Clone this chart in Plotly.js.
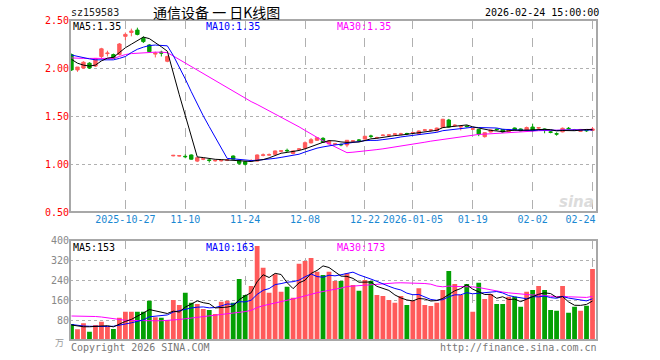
<!DOCTYPE html>
<html><head><meta charset="utf-8">
<script src="https://cdn.plot.ly/plotly-3.0.1.min.js"></script>
<style>html,body{margin:0;padding:0;background:#fff}#chart{width:660px;height:360px}</style>
</head><body><div id="chart"></div>
<script>
const dates = ['2025-10-14','2025-10-15','2025-10-16','2025-10-17','2025-10-20','2025-10-21','2025-10-22','2025-10-23','2025-10-24','2025-10-27','2025-10-28','2025-10-29','2025-10-30','2025-10-31','2025-11-03','2025-11-04','2025-11-05','2025-11-06','2025-11-07','2025-11-10','2025-11-11','2025-11-12','2025-11-13','2025-11-14','2025-11-17','2025-11-18','2025-11-19','2025-11-20','2025-11-21','2025-11-24','2025-11-25','2025-11-26','2025-11-27','2025-11-28','2025-12-01','2025-12-02','2025-12-03','2025-12-04','2025-12-05','2025-12-08','2025-12-09','2025-12-10','2025-12-11','2025-12-12','2025-12-15','2025-12-16','2025-12-17','2025-12-18','2025-12-19','2025-12-22','2025-12-23','2025-12-24','2025-12-25','2025-12-26','2025-12-29','2025-12-30','2025-12-31','2026-01-05','2026-01-06','2026-01-07','2026-01-08','2026-01-09','2026-01-12','2026-01-13','2026-01-14','2026-01-15','2026-01-16','2026-01-19','2026-01-20','2026-01-21','2026-01-22','2026-01-23','2026-01-26','2026-01-27','2026-01-28','2026-01-29','2026-01-30','2026-02-02','2026-02-03','2026-02-04','2026-02-05','2026-02-06','2026-02-09','2026-02-10','2026-02-11','2026-02-12','2026-02-13','2026-02-24'];

const openP = [2.14,1.98,2.00,2.05,2.02,2.12,2.15,2.14,2.14,2.33,
 2.37,2.395,2.31,2.24,2.145,2.165,2.07,1.085,1.083,1.08,
 1.094,1.03,1.05,1.042,1.033,1.033,1.038,1.083,1.04,1.024,
 1.032,1.03,1.09,1.093,1.10,1.133,1.142,1.11,1.153,1.164,
 1.22,1.247,1.267,1.21,1.207,1.203,1.198,1.238,1.25,1.26,
 1.292,1.273,1.298,1.30,1.31,1.31,1.318,1.324,1.3125,1.352,
 1.352,1.345,1.38,1.458,1.40,1.386,1.395,1.363,1.36,1.285,
 1.333,1.363,1.36,1.337,1.375,1.365,1.354,1.385,1.375,1.365,
 1.335,1.315,1.335,1.372,1.356,1.34,1.35,1.35];
const highP = [2.15,2.01,2.07,2.06,2.10,2.21,2.18,2.15,2.26,2.37,
 2.41,2.42,2.33,2.25,2.17,2.18,2.13,1.095,1.093,1.10,
 1.10,1.07,1.06,1.05,1.045,1.045,1.05,1.09,1.045,1.03,
 1.05,1.10,1.11,1.11,1.14,1.145,1.16,1.14,1.165,1.235,
 1.27,1.28,1.28,1.245,1.22,1.215,1.25,1.25,1.26,1.29,
 1.305,1.285,1.31,1.31,1.32,1.325,1.325,1.335,1.35,1.365,
 1.365,1.38,1.47,1.47,1.415,1.40,1.405,1.375,1.365,1.33,
 1.36,1.37,1.365,1.365,1.38,1.37,1.39,1.42,1.385,1.37,
 1.35,1.33,1.38,1.385,1.365,1.365,1.36,1.385];
const lowP = [1.97,1.96,1.99,1.99,2.01,2.10,2.12,2.10,2.13,2.29,
 2.33,2.34,2.26,2.16,2.11,2.12,2.06,1.08,1.078,1.06,
 1.045,1.02,1.04,1.015,1.025,1.025,1.03,1.045,0.99,0.985,
 1.02,1.025,1.08,1.085,1.095,1.12,1.125,1.10,1.14,1.16,
 1.215,1.24,1.22,1.205,1.20,1.185,1.175,1.23,1.235,1.255,
 1.27,1.265,1.29,1.29,1.30,1.30,1.30,1.315,1.305,1.34,
 1.335,1.34,1.375,1.38,1.39,1.35,1.38,1.355,1.29,1.275,
 1.33,1.345,1.325,1.33,1.35,1.34,1.35,1.34,1.365,1.32,
 1.32,1.295,1.33,1.36,1.345,1.335,1.335,1.345];
const closeP = [1.98,2.01,2.06,2.00,2.10,2.20,2.155,2.10,2.25,2.35,
 2.385,2.35,2.275,2.17,2.155,2.155,2.12,1.09,1.087,1.076,
 1.05,1.066,1.054,1.038,1.036,1.037,1.042,1.05,1.007,0.997,
 1.036,1.094,1.095,1.097,1.136,1.137,1.138,1.136,1.157,1.222,
 1.253,1.274,1.226,1.24,1.21,1.20,1.247,1.241,1.247,1.289,
 1.288,1.276,1.30,1.303,1.313,1.313,1.315,1.327,1.344,1.355,
 1.355,1.374,1.466,1.385,1.404,1.39,1.39,1.366,1.3125,1.326,
 1.355,1.358,1.333,1.36,1.354,1.345,1.38,1.35,1.378,1.354,
 1.33,1.312,1.372,1.368,1.352,1.36,1.347,1.365];

const ma5P = [2.09,2.05,2.03,2.02,2.03,2.074,2.103,2.111,2.161,2.211,
 2.248,2.287,2.322,2.306,2.267,2.221,2.175,1.938,1.721,1.506,
 1.285,1.074,1.067,1.057,1.049,1.046,1.041,1.041,1.034,1.027,
 1.026,1.037,1.046,1.064,1.092,1.112,1.121,1.129,1.141,1.158,
 1.181,1.208,1.226,1.243,1.241,1.23,1.225,1.228,1.229,1.245,
 1.262,1.268,1.28,1.291,1.296,1.301,1.309,1.314,1.322,1.331,
 1.339,1.351,1.379,1.387,1.397,1.404,1.407,1.387,1.373,1.357,
 1.35,1.344,1.337,1.346,1.352,1.35,1.354,1.358,1.361,1.361,
 1.358,1.345,1.349,1.347,1.347,1.353,1.36,1.358];
const ma10P = [2.135,2.12,2.11,2.095,2.085,2.085,2.085,2.085,2.10,2.12,
 2.161,2.195,2.217,2.234,2.239,2.235,2.231,2.13,2.014,1.886,
 1.753,1.624,1.502,1.389,1.277,1.165,1.058,1.054,1.046,1.038,
 1.036,1.039,1.043,1.049,1.059,1.069,1.079,1.087,1.102,1.125,
 1.147,1.165,1.178,1.192,1.199,1.206,1.217,1.227,1.236,1.243,
 1.246,1.246,1.254,1.26,1.27,1.282,1.289,1.297,1.307,1.313,
 1.32,1.33,1.347,1.355,1.364,1.372,1.379,1.383,1.38,1.377,
 1.377,1.375,1.362,1.359,1.354,1.35,1.349,1.347,1.354,1.357,
 1.354,1.35,1.354,1.354,1.354,1.356,1.352,1.354];
const ma30P = [2.105,2.10,2.10,2.10,2.10,2.10,2.10,2.10,2.12,2.14,
 2.15,2.155,2.16,2.16,2.165,2.165,2.16,2.125,2.088,2.051,
 2.014,1.977,1.94,1.903,1.866,1.829,1.792,1.755,1.718,1.682,
 1.65,1.62,1.587,1.557,1.525,1.49,1.456,1.424,1.387,1.35,
 1.312,1.276,1.241,1.21,1.179,1.147,1.118,1.123,1.128,1.135,
 1.143,1.15,1.158,1.167,1.176,1.185,1.195,1.204,1.215,1.227,
 1.238,1.247,1.259,1.269,1.278,1.286,1.295,1.302,1.308,1.311,
 1.314,1.317,1.321,1.325,1.33,1.334,1.339,1.342,1.347,1.349,
 1.35,1.352,1.354,1.356,1.357,1.359,1.36,1.361];

const volume = [64,43,67,33,60,73,53,44,89,113,
 113,113,113,157,91,89,80,160,140,189,
 149,144,124,120,104,153,157,149,244,180,
 216,376,289,189,263,193,213,169,305,316,
 328,273,260,273,236,236,267,220,197,240,
 236,180,176,160,149,176,140,157,207,140,
 136,149,200,276,224,180,224,113,229,164,
 184,144,144,173,173,133,193,200,216,200,
 120,117,216,109,133,117,137,284];
const ma5V = [60,55,53,53,53.4,55.2,57.2,52.6,63.8,74.4,
 82.4,94.4,108.2,121.8,117.4,112.6,106,115.4,112,131.6,
 143.6,156.4,149.2,145.2,128.2,129,131.6,136.6,161.4,176.6,
 189.2,233,261,250,266.6,262,229.4,205.4,228.6,239.2,
 266.2,278.2,296.4,290,274,255.6,254.4,246.4,231.2,232,
 232,214.6,205.8,198.4,180.2,168.2,160.2,156.4,165.8,164,
 156,157.8,166.4,180.2,197,205.8,220.8,203.4,194,182,
 182.8,166.8,173,161.8,163.6,153.4,163.2,174.4,183,188.4,
 185.8,170.6,173.8,152.4,139,138.4,142.4,156];
const ma10V = [62,58,56,55,54,54,54,55,58,63.9,
 68.8,75.8,80.4,92.8,95.9,97.5,100.2,111.8,116.9,124.5,
 128.1,131.2,132.3,128.6,129.9,136.3,144,142.9,153.3,152.4,
 159.1,182.3,198.8,205.7,221.6,225.6,231.2,233.2,239.3,252.9,
 264.1,253.8,250.9,259.3,256.6,260.9,266.3,271.4,260.6,253,
 243.8,234.5,226.1,214.8,206.1,200.1,187.4,181.1,182.1,172.1,
 162.1,159,161.4,173,180.5,180.9,189.3,184.9,187.1,189.5,
 194.3,193.8,188.2,177.9,172.8,168.1,165,173.7,172.4,176,
 169.6,166.9,174.1,167.7,163.7,162.1,156.5,164.9];
const ma30V = [96,96,95,95,94,92,88,85,82,79,
 78,77,77,77,77,77,78,80,82,85,
 88,91,93,95,97,100,103,106,110,113.6,
 118.7,129.8,137.2,142.4,149.1,153.1,158.5,162.6,169.8,176.6,
 183.8,189.1,194,197.9,202.7,207.6,213.8,215.8,217.7,219.4,
 222.3,223.5,225.3,226.6,228.1,228.9,228.3,228.6,227.3,226,
 223.3,215.8,212.8,215.7,214.4,214,214.3,212.5,209.9,204.9,
 200.1,195.8,191.9,188.6,186.5,183,180.6,179.9,180.5,179.2,
 175.3,173.2,174.6,172.9,172.3,170.4,170.3,174.5];

const tickDates = ['2025-10-27','2025-11-10','2025-11-24','2025-12-08','2025-12-22','2026-01-05','2026-01-19','2026-02-02','2026-02-24'];
const tickLabels = ['2025-10-27','11-10','11-24','12-08','12-22','2026-01-05','01-19','02-02','02-24\u00a0\u00a0\u00a0\u00a0'];
const priceTicks = [0.5,1.0,1.5,2.0,2.5];
const volTicks = [80,160,240,320,400];

const UP = '#ff5a5a', DOWN = '#03a003';
const MONO = 'DejaVu Sans Mono, monospace';
const L=70, R=597, T=20, B=340;
const px = x => (x-L)/(R-L);
const py = y => (B-y)/(B-T);

const volColors = closeP.map((c,i) => c >= openP[i] ? UP : DOWN);

const traces = [
  {type:'candlestick', x:dates, open:openP, high:highP, low:lowP, close:closeP,
   xaxis:'x', yaxis:'y', whiskerwidth:0,
   increasing:{line:{color:UP,width:1}, fillcolor:UP},
   decreasing:{line:{color:DOWN,width:1}, fillcolor:DOWN}, hoverinfo:'skip'},
  {type:'scatter', mode:'lines', x:dates, y:ma30P, line:{color:'#ff00ff',width:1}, xaxis:'x', yaxis:'y'},
  {type:'scatter', mode:'lines', x:dates, y:ma10P, line:{color:'#0000ff',width:1}, xaxis:'x', yaxis:'y'},
  {type:'scatter', mode:'lines', x:dates, y:ma5P, line:{color:'#000000',width:1}, xaxis:'x', yaxis:'y'},
  {type:'bar', x:dates, y:volume, marker:{color:volColors, line:{width:0}}, xaxis:'x', yaxis:'y2'},
  {type:'scatter', mode:'lines', x:dates, y:ma30V, line:{color:'#ff00ff',width:1}, xaxis:'x', yaxis:'y2'},
  {type:'scatter', mode:'lines', x:dates, y:ma10V, line:{color:'#0000ff',width:1}, xaxis:'x', yaxis:'y2'},
  {type:'scatter', mode:'lines', x:dates, y:ma5V, line:{color:'#000000',width:1}, xaxis:'x', yaxis:'y2'}
];

function ann(text, x, y, color, anchor, size, family, extra){
  return Object.assign({text:text, xref:'paper', yref:'paper', x:px(x), y:py(y),
    xanchor:anchor||'left', yanchor:'middle', showarrow:false,
    font:{family:family||MONO, size:size||10, color:color||'#000'}}, extra||{});
}

const layout = {
  width:660, height:360, margin:{l:L, r:660-R, t:T, b:360-B},
  paper_bgcolor:'#fff', plot_bgcolor:'#fff', showlegend:false, hovermode:false,
  boxgap:0.2, bargap:0.2,
  xaxis:{type:'category', range:[-0.25, 87.75], anchor:'y', tickvals:tickDates, ticktext:tickLabels,
    tickfont:{family:MONO, size:10, color:'#1a88d2'}, ticks:'', showgrid:true, gridcolor:'#b0b0b0',
    griddash:'dash', gridwidth:1, zeroline:false, showline:false, rangeslider:{visible:false}, fixedrange:true},
  yaxis:{domain:[py(212), 1], range:[0.5, 2.5], tickvals:priceTicks, tickformat:'.2f',
    tickfont:{family:MONO, size:10, color:'#ff0000'}, ticks:'', showgrid:true, gridcolor:'#b0b0b0',
    griddash:'dot', zeroline:false, showline:false, fixedrange:true},
  yaxis2:{domain:[0, py(240)], range:[0, 400], tickvals:volTicks, anchor:'x',
    tickfont:{family:MONO, size:10, color:'#888'}, ticks:'', showgrid:true, gridcolor:'#b0b0b0',
    griddash:'dot', zeroline:false, showline:false, fixedrange:true},
  shapes:[
    {type:'rect', xref:'paper', yref:'paper', x0:0, x1:1, y0:py(212), y1:1, line:{color:'#a8a8a8', width:2}},
    {type:'rect', xref:'paper', yref:'paper', x0:0, x1:1, y0:0, y1:py(240), line:{color:'#a8a8a8', width:2}}
  ],
  annotations:[
    ann('sz159583', 69, 12, '#222'),
    ann('通信设备 一 日K线图', 151, 12, '#000', 'left', 14, 'Noto Sans CJK SC'),
    ann('2026-02-24 15:00:00', 601, 12, '#000', 'right'),
    ann('MA5:1.35', 71, 27, '#000'),
    ann('MA10:1.35', 204, 27, '#0000ff'),
    ann('MA30:1.35', 335, 27, '#ff00ff'),
    ann('MA5:153', 71, 247, '#000'),
    ann('MA10:163', 204, 247, '#0000ff'),
    ann('MA30:173', 335, 247, '#ff00ff'),
    ann('Copyright 2026 SINA.COM', 69, 347, '#777'),
    ann('http://finance.sina.com.cn', 599, 347, '#777', 'right'),
    ann('万', 66, 342, '#999', 'right', 9, 'Noto Sans CJK SC'),
    ann('sina', 596, 202, '#dcdcdc', 'right', 15, 'DejaVu Sans', {font:{family:'DejaVu Sans', size:15, color:'#dcdcdc', weight:'bold', style:'italic'}})
  ]
};

Plotly.newPlot('chart', traces, layout, {staticPlot:true, displayModeBar:false});
</script>
</body></html>
